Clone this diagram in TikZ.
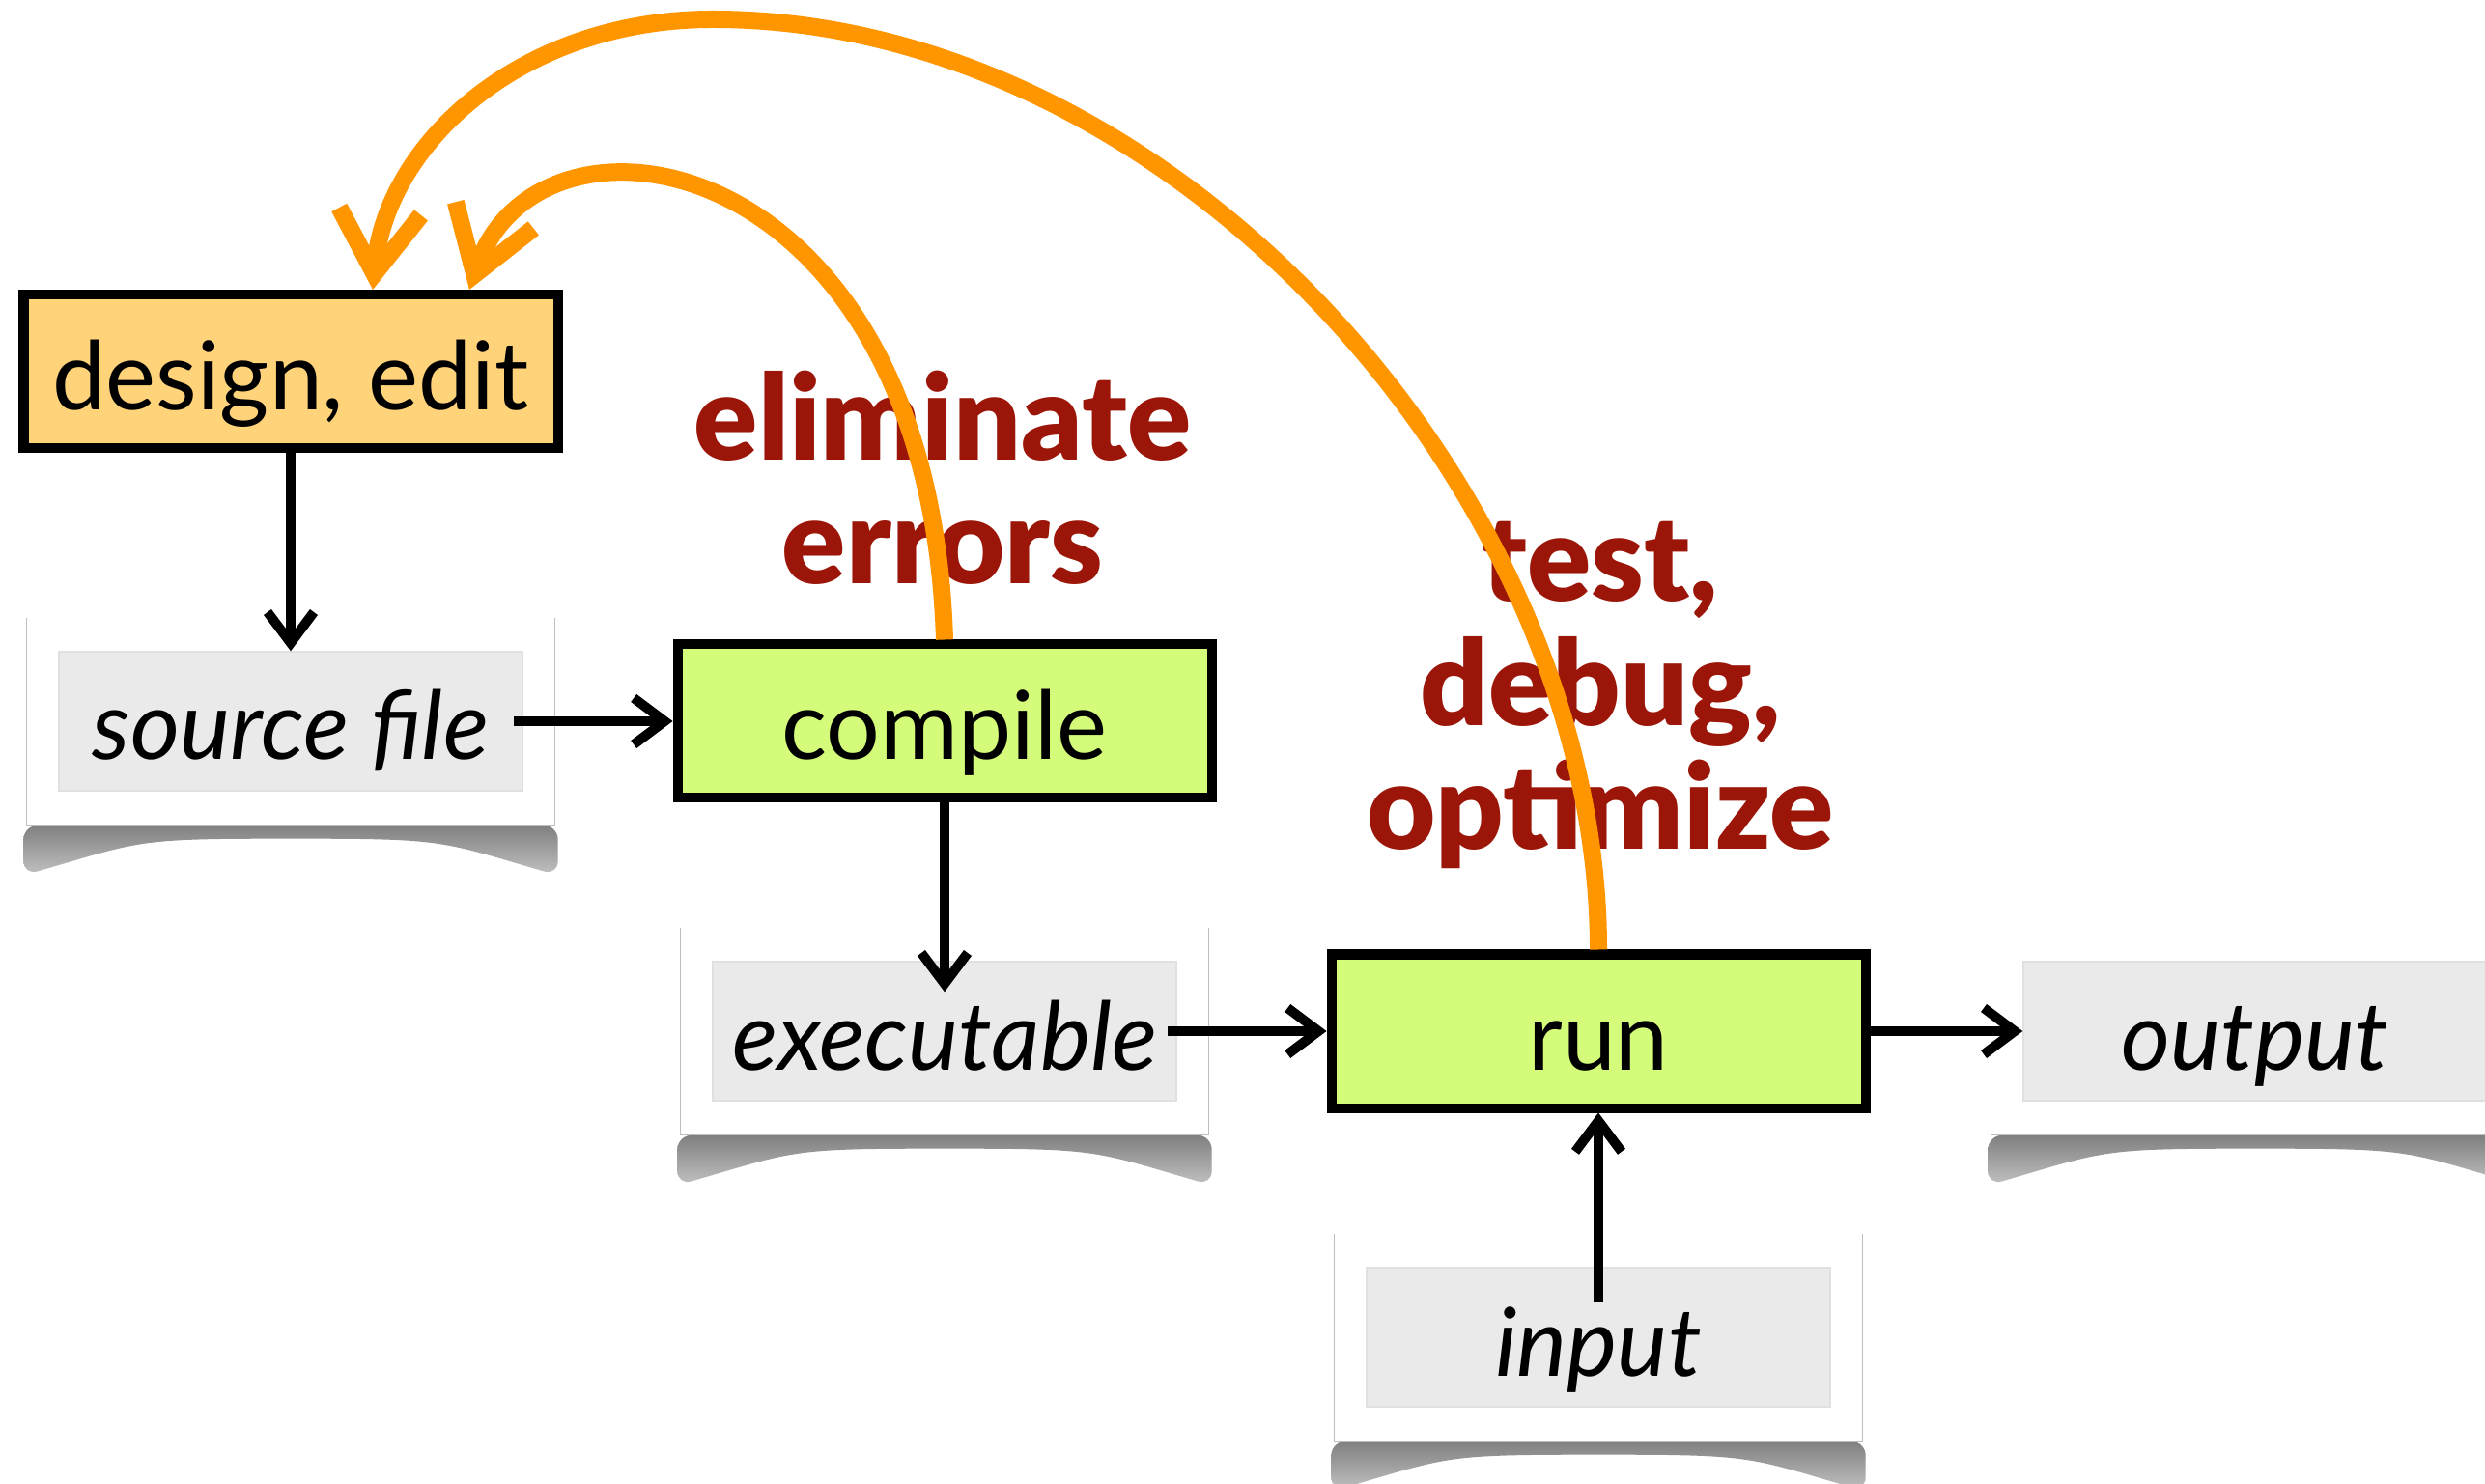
\documentclass[tikz,border=0pt]{standalone}
\usepackage{fontspec}
\setmainfont{Lato}
\newfontfamily\heavyfont{Lato Black}
\usetikzlibrary{arrows.meta, positioning, calc, backgrounds}
\definecolor{editorange}{RGB}{254, 211, 122}
\definecolor{stepgreen}{RGB}{213, 251, 122}
\definecolor{looporange}{RGB}{255, 150, 0}
\definecolor{loopred}{RGB}{155, 22, 8}
\definecolor{cardgray}{RGB}{234, 234, 234}
\tikzset{
  stepbox/.style={rectangle, draw=black, line width=0.1cm, fill=#1,
                  minimum width=5.53cm, minimum height=1.59cm, inner sep=0pt,
                  text height=0.85cm, text depth=0.05cm, font=\fontsize{28}{34}\selectfont},
  stepbox/.default=stepgreen,
  filebox/.style={rectangle, fill=cardgray, draw=black!12, thin,
                  minimum width=4.8cm, minimum height=1.44cm, inner sep=0pt,
                  text height=0.85cm, text depth=0.05cm, font=\fontsize{28}{34}\selectfont\itshape},
  arrow/.style={-{Straight Barb[length=3.2mm, width=4.8mm]}, line width=0.1cm},
  looparrow/.style={-{Straight Barb[length=6.5mm, width=8.5mm]}, line width=0.18cm, color=looporange},
  looplabel/.style={align=center, color=loopred, font=\fontsize{35}{36.5}\heavyfont},
}

\begin{document}
\begin{tikzpicture}
  \useasboundingbox (0,0) rectangle (25.73,-15.37);

  % steps
  \node[stepbox=editorange] (design) at (3.01,-3.845) {design, edit};
  \node[stepbox] (compile) at (9.78,-7.47) {compile};
  \node[stepbox] (run) at (16.55,-10.68) {run};

  % files
  \node[filebox] (src) at (3.01,-7.47) {source file};
  \node[filebox] (exe) at (9.78,-10.68) {executable};
  \node[filebox] (inp) at (16.55,-13.85) {input};
  \node[filebox] (out) at (23.35,-10.68) {output};

  % cards and their shadows
  \begin{scope}[on background layer]
    \fill[white] (0,0) rectangle (25.73,-15.37);
    \foreach \n in {src,exe,inp,out}{
      \shade[top color=black!50, bottom color=black!24, rounded corners=0.15cm]
        ($(\n.south west)+(-0.36,-0.35)$) -- ++(0,-0.52)
        .. controls +(1.2,0.35) and +(-1.6,0) .. ($(\n.south)+(0,-0.49)$)
        .. controls +(1.6,0) and +(-1.2,0.35) .. ($(\n.south east)+(0.36,-0.87)$)
        -- ++(0,0.52) -- cycle;
      \fill[white] ($(\n.south west)+(-0.33,-0.35)$) rectangle ($(\n.north east)+(0.33,0.345)$);
      \draw[black!25, thin] ($(\n.north west)+(-0.33,0.345)$) -- ($(\n.south west)+(-0.33,-0.35)$)
        -- ($(\n.south east)+(0.33,-0.35)$) -- ($(\n.north east)+(0.33,0.345)$);
    }
  \end{scope}

  % flow
  \draw[arrow] (design.south) -- (src.north);
  \draw[arrow] ([xshift=-1mm]src.east) -- (compile.west);
  \draw[arrow] (compile.south) -- ([yshift=-3.2mm]exe.north);
  \draw[arrow] ([xshift=-1mm]exe.east) -- (run.west);
  \draw[arrow] (run.east) -- (out.west);
  \draw[arrow] ([yshift=-3.6mm]inp.north) -- (run.south);

  % loops back
  \node[looplabel] (errlabel) at (9.76,-4.95) {eliminate\\errors};
  \node[looplabel] (testlabel) at (16.57,-7.2) {test,\\debug,\\optimize};
  \coordinate (peak) at (7.38,-0.20);
  \draw[looparrow] (compile.north) .. controls +(-0.16,5.13) and +(0.72,2.13) .. ([xshift=1.85cm]design.north);
  \draw[looparrow] (run.north) .. controls +(0,4.7) and +(4.8,0) .. (peak)
    .. controls +(-2,0) and +(0.14,1.5) .. ([xshift=0.85cm]design.north);
\end{tikzpicture}
\end{document}
